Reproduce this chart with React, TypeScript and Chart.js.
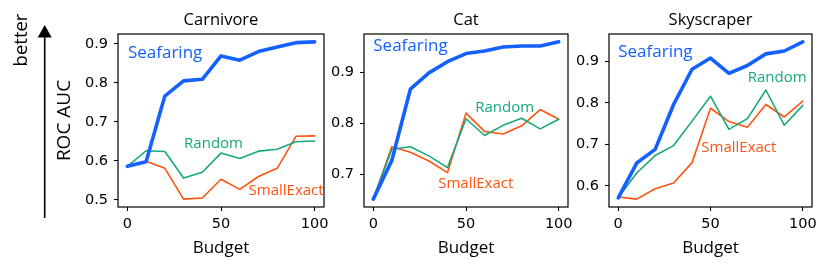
import React, { useEffect, useRef } from "react";
import { Chart, registerables } from "chart.js";

Chart.register(...registerables);

// ---------- data ----------
const budgets = [0, 10, 20, 30, 40, 50, 60, 70, 80, 90, 100];
const seriesNames = ["Seafaring", "Random", "SmallExact"];
const panelTitles = ["Carnivore", "Cat", "Skyscraper"];

const carnivoreSeafaring = [0.586, 0.598, 0.766, 0.805, 0.809, 0.869, 0.858, 0.88, 0.892, 0.903, 0.905];
const carnivoreRandom = [0.586, 0.626, 0.624, 0.556, 0.571, 0.62, 0.606, 0.625, 0.63, 0.649, 0.651];
const carnivoreSmallExact = [0.586, 0.599, 0.581, 0.502, 0.505, 0.553, 0.527, 0.56, 0.581, 0.663, 0.664];

const catSeafaring = [0.651, 0.727, 0.867, 0.899, 0.921, 0.937, 0.942, 0.95, 0.952, 0.952, 0.96];
const catRandom = [0.651, 0.749, 0.754, 0.736, 0.713, 0.809, 0.776, 0.796, 0.81, 0.789, 0.808];
const catSmallExact = [0.651, 0.754, 0.743, 0.726, 0.703, 0.82, 0.784, 0.779, 0.795, 0.827, 0.808];

const skyscraperSeafaring = [0.571, 0.655, 0.688, 0.796, 0.881, 0.908, 0.871, 0.89, 0.918, 0.925, 0.947];
const skyscraperRandom = [0.571, 0.631, 0.673, 0.697, 0.756, 0.816, 0.736, 0.762, 0.831, 0.746, 0.794];
const skyscraperSmallExact = [0.573, 0.568, 0.593, 0.607, 0.656, 0.787, 0.755, 0.741, 0.796, 0.766, 0.804];

const xTicks = [0, 50, 100];
const carnivoreYTicks = [0.5, 0.6, 0.7, 0.8, 0.9];
const catYTicks = [0.7, 0.8, 0.9];
const skyscraperYTicks = [0.6, 0.7, 0.8, 0.9];

// ---------- styles / layout ----------
const W = 830;
const H = 269;
const YW = 50; // fixed y-axis box width
const XH = 40; // fixed x-axis box height
const colors = ["#1461ff", "#17a77b", "#ff5312"];
const widths = [3.6, 1.6, 1.6];
const labelFont = '"Open Sans", "Noto Sans", sans-serif';
const tickFont = "DejaVu Sans";

type Panel = {
  title: string;
  series: number[][];
  yTicks: number[];
  area: { left: number; right: number; top: number; bottom: number };
  // annotation anchors (data units): left edge x, vertical centre y
  notes: { x: number; y: number; size: number }[];
};

const panels: Panel[] = [
  {
    title: panelTitles[0],
    series: [carnivoreSeafaring, carnivoreRandom, carnivoreSmallExact],
    yTicks: carnivoreYTicks,
    area: { left: 118, right: 324, top: 34, bottom: 207 },
    notes: [
      { x: 0.3, y: 0.877, size: 17 },
      { x: 30.3, y: 0.644, size: 15 },
      { x: 64.7, y: 0.523, size: 15 },
    ],
  },
  {
    title: panelTitles[1],
    series: [catSeafaring, catRandom, catSmallExact],
    yTicks: catYTicks,
    area: { left: 364, right: 568, top: 34, bottom: 207 },
    notes: [
      { x: 0, y: 0.952, size: 17 },
      { x: 55, y: 0.83, size: 15 },
      { x: 35, y: 0.681, size: 15 },
    ],
  },
  {
    title: panelTitles[2],
    series: [skyscraperSeafaring, skyscraperRandom, skyscraperSmallExact],
    yTicks: skyscraperYTicks,
    area: { left: 609, right: 812, top: 34, bottom: 207 },
    notes: [
      { x: 0, y: 0.923, size: 17 },
      { x: 70.2, y: 0.861, size: 15 },
      { x: 45, y: 0.693, size: 15 },
    ],
  },
];

function makeConfig(p: Panel, first: boolean): any {
  const all = p.series.flat();
  const lo = Math.min(...all);
  const hi = Math.max(...all);
  const m = (hi - lo) * 0.05;

  const decorate = {
    id: "decorate",
    afterDatasetsDraw(chart: any) {
      const { ctx, chartArea: a, scales } = chart;
      const xs = scales.x;
      const ys = scales.y;
      ctx.save();
      ctx.strokeStyle = "#000";
      ctx.lineWidth = 1.2;
      ctx.strokeRect(a.left, a.top, a.right - a.left, a.bottom - a.top);

      ctx.fillStyle = "#000";
      ctx.textAlign = "center";
      ctx.textBaseline = "middle";
      ctx.font = `16.5px ${labelFont}`;
      ctx.fillText(p.title, (a.left + a.right) / 2, a.top - 14);
      ctx.font = `17px ${labelFont}`;
      ctx.fillText("Budget", (a.left + a.right) / 2, a.bottom + 41);

      ctx.textAlign = "left";
      p.notes.forEach((n, i) => {
        ctx.fillStyle = colors[i];
        ctx.font = `${n.size}px ${labelFont}`;
        ctx.fillText(seriesNames[i], xs.getPixelForValue(n.x), ys.getPixelForValue(n.y));
      });

      if (first) {
        ctx.fillStyle = "#000";
        ctx.textAlign = "center";
        ctx.save();
        ctx.translate(65, (a.top + a.bottom) / 2);
        ctx.rotate(-Math.PI / 2);
        ctx.font = `19px ${labelFont}`;
        ctx.fillText("ROC AUC", 0, 0);
        ctx.restore();

        ctx.save();
        ctx.translate(22, 40);
        ctx.rotate(-Math.PI / 2);
        ctx.font = `18.5px ${labelFont}`;
        ctx.fillText("better", 0, 0);
        ctx.restore();

        // arrow
        ctx.strokeStyle = "#000";
        ctx.lineWidth = 1.6;
        ctx.beginPath();
        ctx.moveTo(44.7, 218);
        ctx.lineTo(44.7, 36);
        ctx.stroke();
        ctx.beginPath();
        ctx.moveTo(44.7, 25);
        ctx.lineTo(37.7, 37.5);
        ctx.lineTo(51.7, 37.5);
        ctx.closePath();
        ctx.fill();
      }
      ctx.restore();
    },
  };

  return {
    type: "line",
    data: {
      datasets: p.series.map((vals, i) => ({
        label: seriesNames[i],
        data: budgets.map((b, j) => ({ x: b, y: vals[j] })),
        borderColor: colors[i],
        borderWidth: widths[i],
        pointRadius: 0,
        tension: 0,
        fill: false,
        borderJoinStyle: "round",
        borderCapStyle: "round",
      })),
    },
    options: {
      responsive: false,
      maintainAspectRatio: false,
      animation: false,
      events: [],
      layout: {
        padding: {
          left: p.area.left - YW,
          right: W - p.area.right,
          top: p.area.top,
          bottom: H - p.area.bottom - XH,
        },
      },
      plugins: {
        legend: { display: false },
        tooltip: { enabled: false },
        title: { display: false },
      },
      scales: {
        x: {
          type: "linear",
          min: -5,
          max: 105,
          afterBuildTicks: (s: any) => {
            s.ticks = xTicks.map((v) => ({ value: v }));
          },
          afterFit: (s: any) => {
            s.height = XH;
            s.paddingLeft = 0;
            s.paddingRight = 0;
          },
          border: { display: false },
          grid: {
            drawOnChartArea: false,
            drawTicks: true,
            tickLength: 4,
            tickColor: "#000",
            tickWidth: 1.1,
            color: "#000",
          },
          ticks: {
            color: "#000",
            padding: 5,
            maxRotation: 0,
            autoSkip: false,
            font: { family: tickFont, size: 14.5 },
            callback: (v: any) => String(v),
          },
        },
        y: {
          type: "linear",
          min: lo - m,
          max: hi + m,
          afterBuildTicks: (s: any) => {
            s.ticks = p.yTicks.map((v) => ({ value: v }));
          },
          afterFit: (s: any) => {
            s.width = YW;
            s.paddingTop = 0;
            s.paddingBottom = 0;
          },
          border: { display: false },
          grid: {
            drawOnChartArea: false,
            drawTicks: true,
            tickLength: 4,
            tickColor: "#000",
            tickWidth: 1.1,
            color: "#000",
          },
          ticks: {
            color: "#000",
            padding: 6,
            autoSkip: false,
            font: { family: tickFont, size: 14.5 },
            callback: (v: any) => Number(v).toFixed(1),
          },
        },
      },
    },
    plugins: [decorate],
  };
}

function PanelChart({ p, first }: { p: Panel; first: boolean }) {
  const ref = useRef<HTMLCanvasElement | null>(null);
  useEffect(() => {
    if (!ref.current) return;
    const chart = new Chart(ref.current, makeConfig(p, first));
    return () => chart.destroy();
  }, [p, first]);
  return (
    <canvas
      ref={ref}
      width={W}
      height={H}
      style={{ position: "absolute", left: 0, top: 0, width: W, height: H }}
    />
  );
}

export default function App() {
  return (
    <div
      style={{
        position: "absolute",
        left: 0,
        top: 0,
        width: W,
        height: H,
        background: "#fff",
        overflow: "hidden",
      }}
    >
      {panels.map((p, i) => (
        <PanelChart key={p.title} p={p} first={i === 0} />
      ))}
    </div>
  );
}
